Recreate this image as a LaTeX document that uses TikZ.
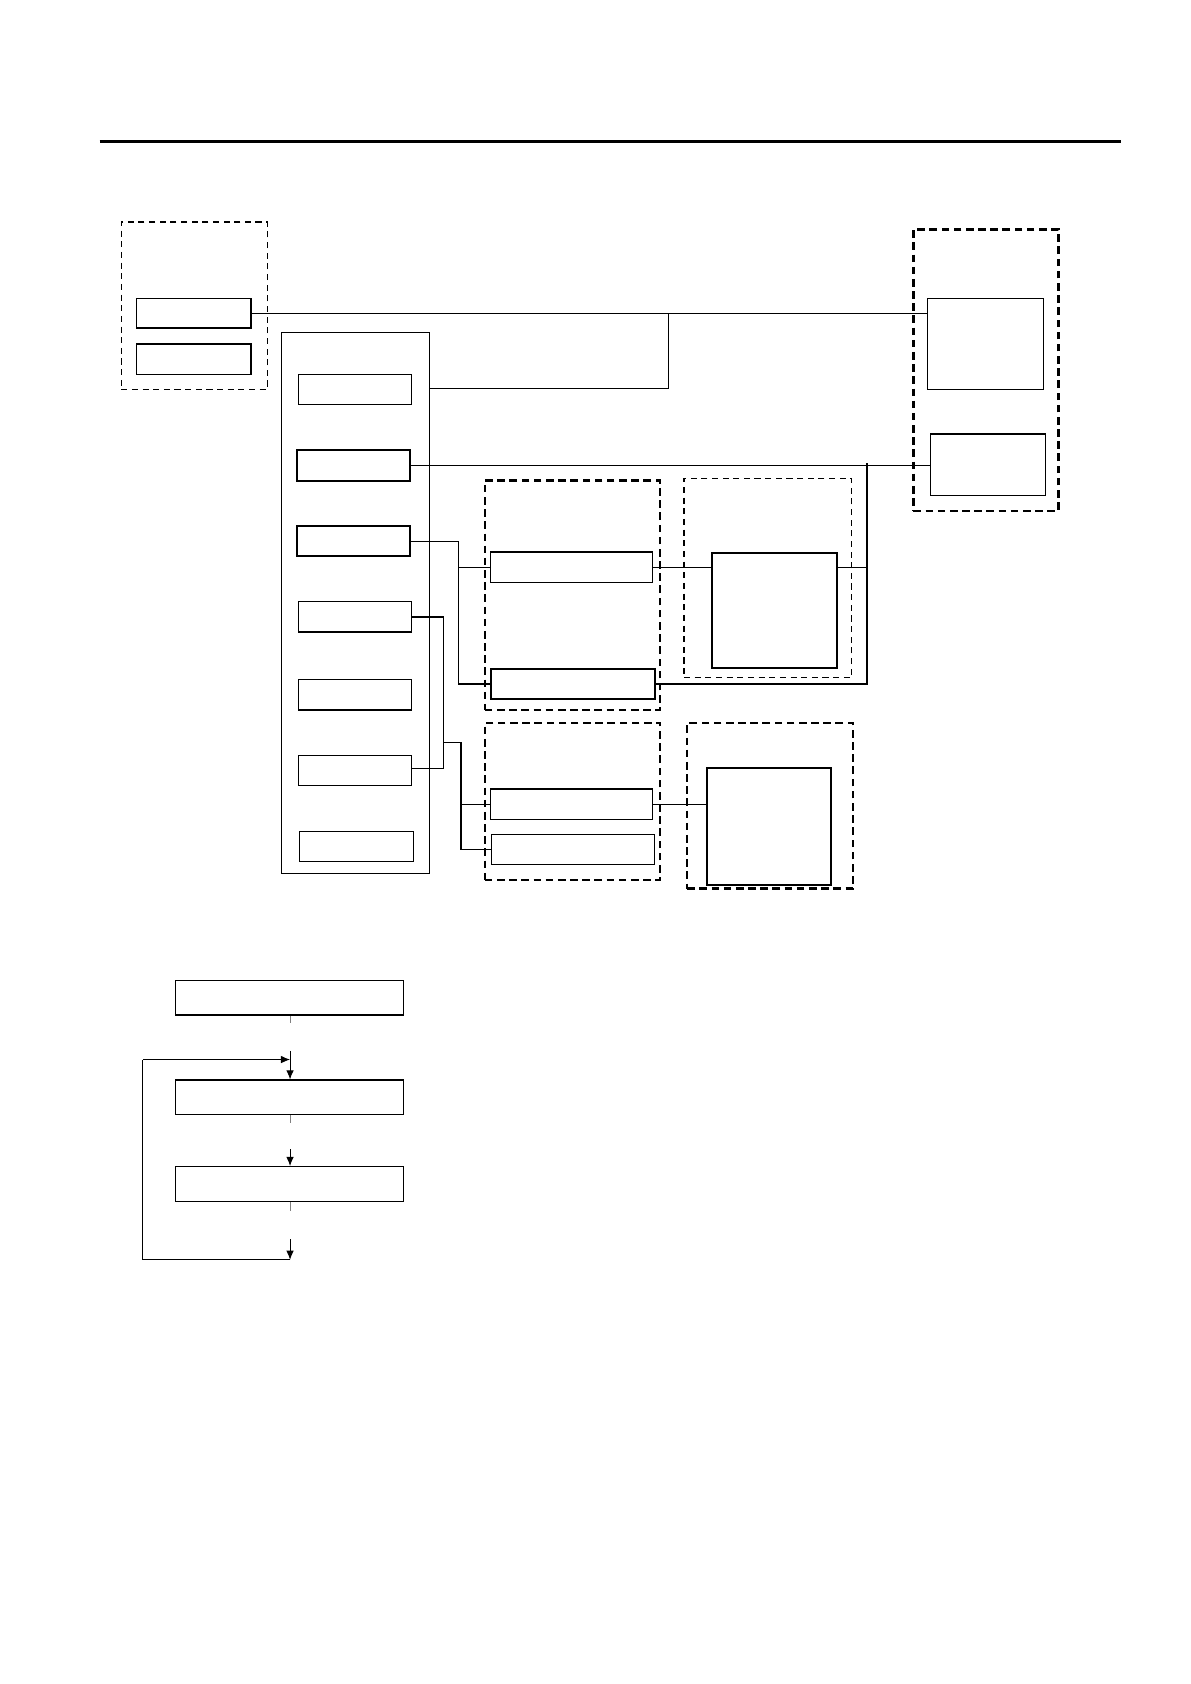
\documentclass[tikz,border=0pt]{standalone}
\usetikzlibrary{fit,arrows.meta}
\begin{document}
\begin{tikzpicture}[x=0.025cm,y=-0.025cm,
  box/.style={draw,line width=0.9pt,inner sep=0pt},
  tbox/.style={draw,line width=1.3pt,inner sep=0pt},
  dbox/.style={draw,dashed,line width=0.9pt,dash pattern=on 4pt off 3pt,inner sep=0pt},
  tdbox/.style={draw,line width=1.4pt,dash pattern=on 5pt off 3pt,inner sep=0pt},
  ln/.style={line width=0.8pt},
  stub/.style={draw=gray,line width=0.4pt},
  arr/.style={line width=0.6pt,-{Latex[length=6pt,width=5pt]}}]
\useasboundingbox (0,0) rectangle (1100,1556);
\draw[line width=2.2pt] (92,131) -- (1036,131);
% left group
\node[dbox,fit={(112,205) (247,360)}] (A) {};
\node[box,fit={(126,276) (232,303)}] (A1) {};
\node[box,fit={(126,318) (232,346)}] (A2) {};
% main column
\node[box,fit={(260,307) (397,807)}] (M) {};
\node[box,fit={(276,346) (380,374)}] (m1) {};
\node[tbox,fit={(274,416) (379,444)}] (m2) {};
\node[tbox,fit={(274,486) (379,514)}] (m3) {};
\node[box,fit={(276,556) (380,584)}] (m4) {};
\node[box,fit={(276,628) (380,656)}] (m5) {};
\node[box,fit={(276,698) (380,726)}] (m6) {};
\node[box,fit={(277,768) (382,796)}] (m7) {};
% right group
\node[tdbox,fit={(844,212) (978,472)}] (R) {};
\node[box,fit={(857,276) (964,360)}] (R1) {};
\node[box,fit={(860,401) (966,458)}] (R2) {};
% C group
\node[tdbox,fit={(448,444) (610,656)}] (C) {};
\node[box,fit={(453,510) (603,538)}] (C1) {};
\node[tbox,fit={(454,618) (605,646)}] (C2) {};
\node[dbox,fit={(632,442) (787,626)}] (D) {};
\node[tbox,fit={(658,511) (773,617)}] (D1) {};
% E group
\node[tdbox,fit={(448,668) (610,813)}] (E) {};
\node[box,fit={(453,729) (603,757)}] (E1) {};
\node[box,fit={(454,771) (605,799)}] (E2) {};
\node[tdbox,fit={(635,668) (788,821)}] (F) {};
\node[tbox,fit={(653,710) (768,818)}] (F1) {};
% coordinates
\coordinate (j1) at (618,290);
\coordinate (j2) at (424,500);
\coordinate (j3) at (801,524);
\coordinate (j4) at (410,570);
\coordinate (j5) at (426,686);
% connectors
\draw[ln] (A1.east |- 0,290) -- (R1.west |- 0,290);
\draw[ln] (M.east |- 0,359) -- (j1 |- 0,359) -- (j1);
\draw[ln] (m2.east |- 0,430) -- (R2.west |- 0,430);
\draw[ln] (m3.east |- j2) -- (j2) -- (j2 |- 0,632) -- (C2.west |- 0,632);
\draw[ln] (j2 |- 0,524) -- (C1.west |- 0,524);
\draw[ln] (C1.east |- 0,524) -- (D1.west |- 0,524);
\draw[ln] (D1.east |- j3) -- (j3);
\draw[ln] (801,428) -- (801,632) -- (C2.east |- 0,632);
\draw[ln] (m4.east |- j4) -- (j4) -- (j4 |- 0,710) -- (m6.east |- 0,710);
\draw[ln] (j4 |- j5) -- (j5) -- (j5 |- 0,785) -- (E2.west |- 0,785);
\draw[ln] (j5 |- 0,743) -- (E1.west |- 0,743);
\draw[ln] (E1.east |- 0,743) -- (F1.west |- 0,743);
% flowchart
\node[box,fit={(162,906) (373,938)}] (B1) {};
\node[box,fit={(162,998) (373,1030)}] (B2) {};
\node[box,fit={(162,1078) (373,1110)}] (B3) {};
\coordinate (p1) at (268,971);
\coordinate (p2) at (268,1062);
\coordinate (p3) at (268,1145);
\coordinate (p4) at (268,1164);
\coordinate (q) at (268,979);
\draw[stub] (B1.south -| p1) -- ++(0,7);
\draw[stub] (B2.south -| p1) -- ++(0,7);
\draw[stub] (B3.south -| p1) -- ++(0,8);
\draw[arr] (p1) -- (B2.north -| p1);
\draw[arr] (p2) -- (B3.north -| p2);
\draw[arr] (p3) -- (p4);
\draw[ln] (p4) -- (132,1164) -- (132,979);
\draw[arr] (132,979) -- (q);
\end{tikzpicture}
\end{document}
